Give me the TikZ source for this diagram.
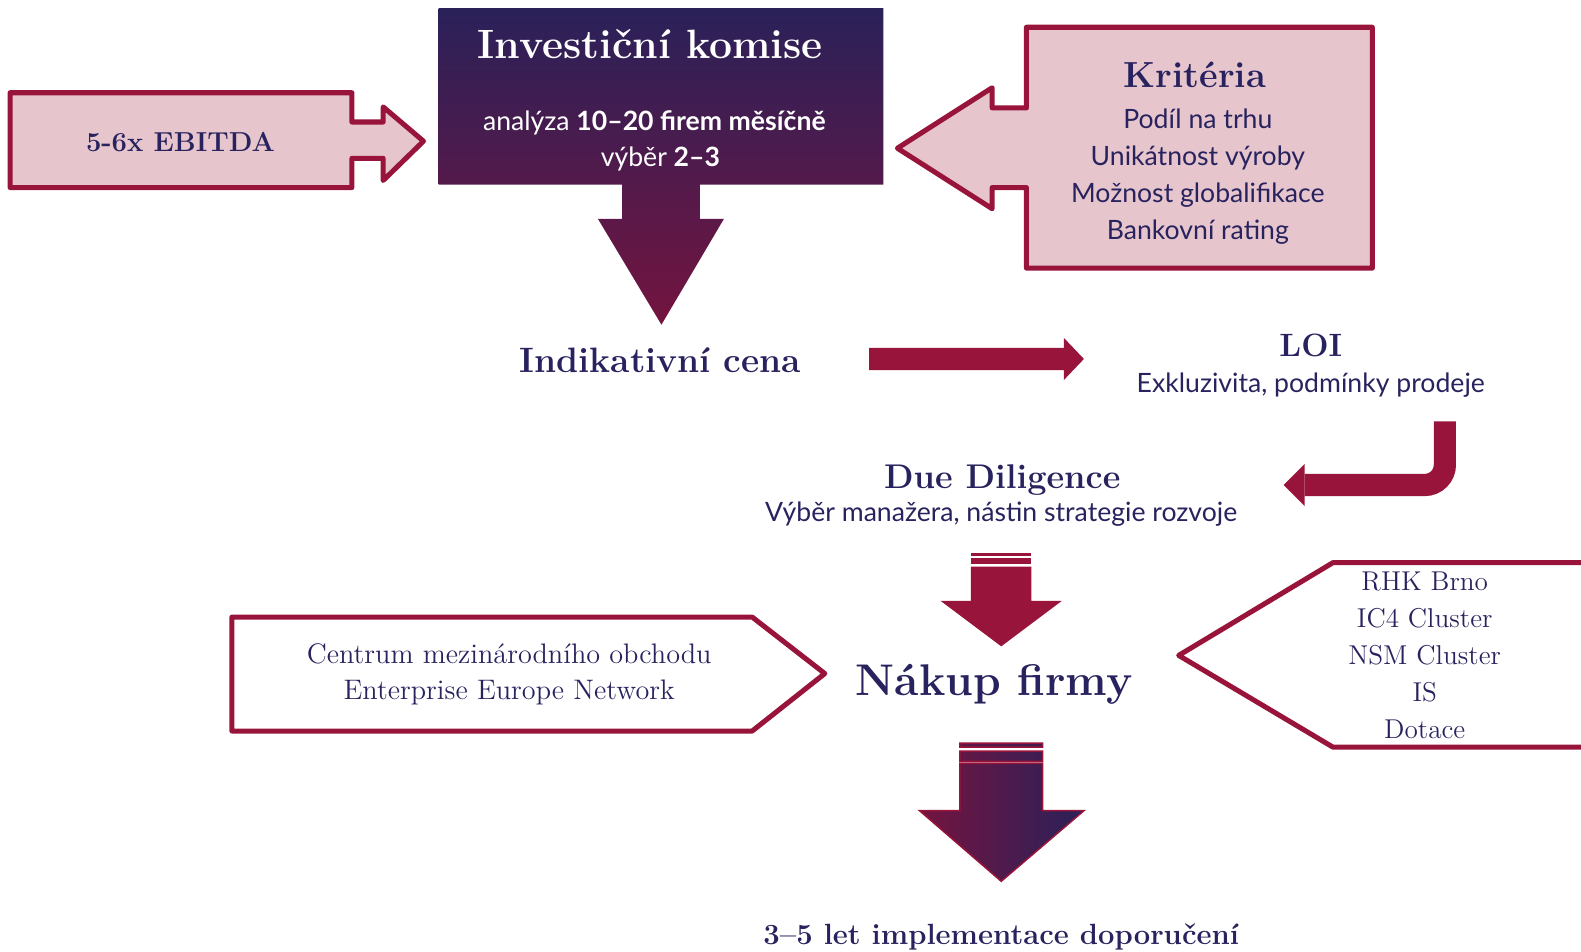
\documentclass[tikz,border=0pt]{standalone}
\usepackage{fontspec}
\setsansfont{Lato}
\usepackage{xcolor}

\definecolor{wine}{HTML}{98143A}
\definecolor{blush}{HTML}{E6C5CD}
\definecolor{navy}{HTML}{28235E}
\definecolor{inktop}{HTML}{2A2159}
\definecolor{inkbot}{HTML}{74143F}

\newcommand{\fsz}[1]{\fontsize{#1}{#1}\selectfont}

\tikzset{
	wineborder/.style={draw=wine, line width=2.5pt, line join=round},
	serifhead/.style={text=navy, anchor=base, inner sep=0pt},
	sanstext/.style={text=navy, font=\sffamily\fsz{13.2}, anchor=base, inner sep=0pt},
}

\begin{document}
\begin{tikzpicture}[x=0.5pt, y=-0.5pt]
	\useasboundingbox (0,0) rectangle (1568,944);
	% (EBITDA)
	\draw[wineborder, fill=blush] (10,92) -- (349,92) -- (349,121) -- (380,121) -- (380,106) -- (420,140) -- (380,179) -- (380,157) -- (349,157) -- (349,186) -- (10,186) -- cycle;
	\node[serifhead, font=\bfseries\fsz{13.6}] (ebitda) at (179,150) {5-6x EBITDA};
	% (komise)
	\shade[top color=inktop, bottom color=inkbot] (435,8) -- (876,8) -- (876,183) -- (694,183) -- (694,217) -- (718,217) -- (656,322) -- (593,217) -- (617,217) -- (617,183) -- (435,183) -- cycle;
	\node[serifhead, text=white, font=\bfseries\fsz{20.3}] (invTitle) at (645,58) {Investiční komise};
	\node[sanstext, text=white] (invRate) at (649,129) {analýza \textbf{10–20 firem měsíčně}};
	\node[sanstext, text=white] (invPick) at (655,165) {výběr \textbf{2–3}};
	% (kriteria)
	\draw[wineborder, fill=blush] (1018,27) -- (1361,27) -- (1361,266) -- (1018,266) -- (1018,186) -- (984,186) -- (984,207) -- (890,147) -- (984,87) -- (984,107) -- (1018,107) -- cycle;
	\node[serifhead, font=\bfseries\fsz{18}] (critTitle) at (1185,87) {Kritéria};
	\foreach \crit [count=\i] in {Podíl na trhu, Unikátnost výroby, Možnost globalifikace, Bankovní rating}
		\node[sanstext] (crit\i) at (1188,{90+37*\i}) {\crit};
	% (cena -> LOI)
	\node[serifhead, font=\bfseries\fsz{17.5}] (price) at (655,369) {Indikativní cena};
	\fill[wine] (862,345) -- (1055,345) -- (1055,335) -- (1075,356) -- (1055,377) -- (1055,367) -- (862,367) -- cycle;
	\node[serifhead, font=\bfseries\fsz{16}] (loi) at (1300,354) {LOI};
	\node[sanstext] (loiText) at (1300,389) {Exkluzivita, podmínky prodeje};
	% (LOI -> due diligence)
	\draw[wine, line width=11pt, rounded corners=10pt] (1433,418) -- (1433,481) -- (1294,481);
	\fill[wine] (1294,460) -- (1294,502) -- (1273,481) -- cycle;
	\node[serifhead, font=\bfseries\fsz{17}] (dd) at (994,484) {Due Diligence};
	\node[sanstext] (ddText) at (993,517) {Výběr manažera, nástin strategie rozvoje};
	% (down to nakup)
	\fill[wine] (963,548) rectangle (1023,551);
	\fill[wine] (963,553.5) rectangle (1023,559.5);
	\fill[wine] (963,562) -- (1023,562) -- (1023,596) -- (1053,596) -- (993,641) -- (933,596) -- (963,596) -- cycle;
	\node[serifhead, font=\bfseries\fsz{22}] (buy) at (986,690) {Nákup firmy};
	% (partners left)
	\draw[wineborder] (230,612) -- (746,612) -- (818,668) -- (746,725) -- (230,725) -- cycle;
	\node[serifhead, font=\fsz{14}] (centre1) at (505,658) {Centrum mezinárodního obchodu};
	\node[serifhead, font=\fsz{14}] (centre2) at (505,694) {Enterprise Europe Network};
	% (partners right)
	\draw[wineborder] (1580,558) -- (1322,558) -- (1169,650) -- (1322,741) -- (1580,741);
	\foreach \org [count=\i] in {RHK Brno, IC4 Cluster, NSM Cluster, IS, Dotace}
		\node[serifhead, font=\fsz{13.5}] (org\i) at (1413,{549.5+36.5*\i}) {\org};
	% (down to implementace)
	\shadedraw[left color=inkbot, right color=inktop, draw=wine, line width=0.75pt] (952,737) rectangle (1034,741) (952,745) rectangle (1034,755) (952,757) -- (1034,757) -- (1034,804) -- (1075,804) -- (993,874) -- (912,804) -- (952,804) -- cycle;
	\node[serifhead, font=\bfseries\fsz{14.5}] (plan) at (993,937) {3–5 let implementace doporučení};
\end{tikzpicture}
\end{document}
